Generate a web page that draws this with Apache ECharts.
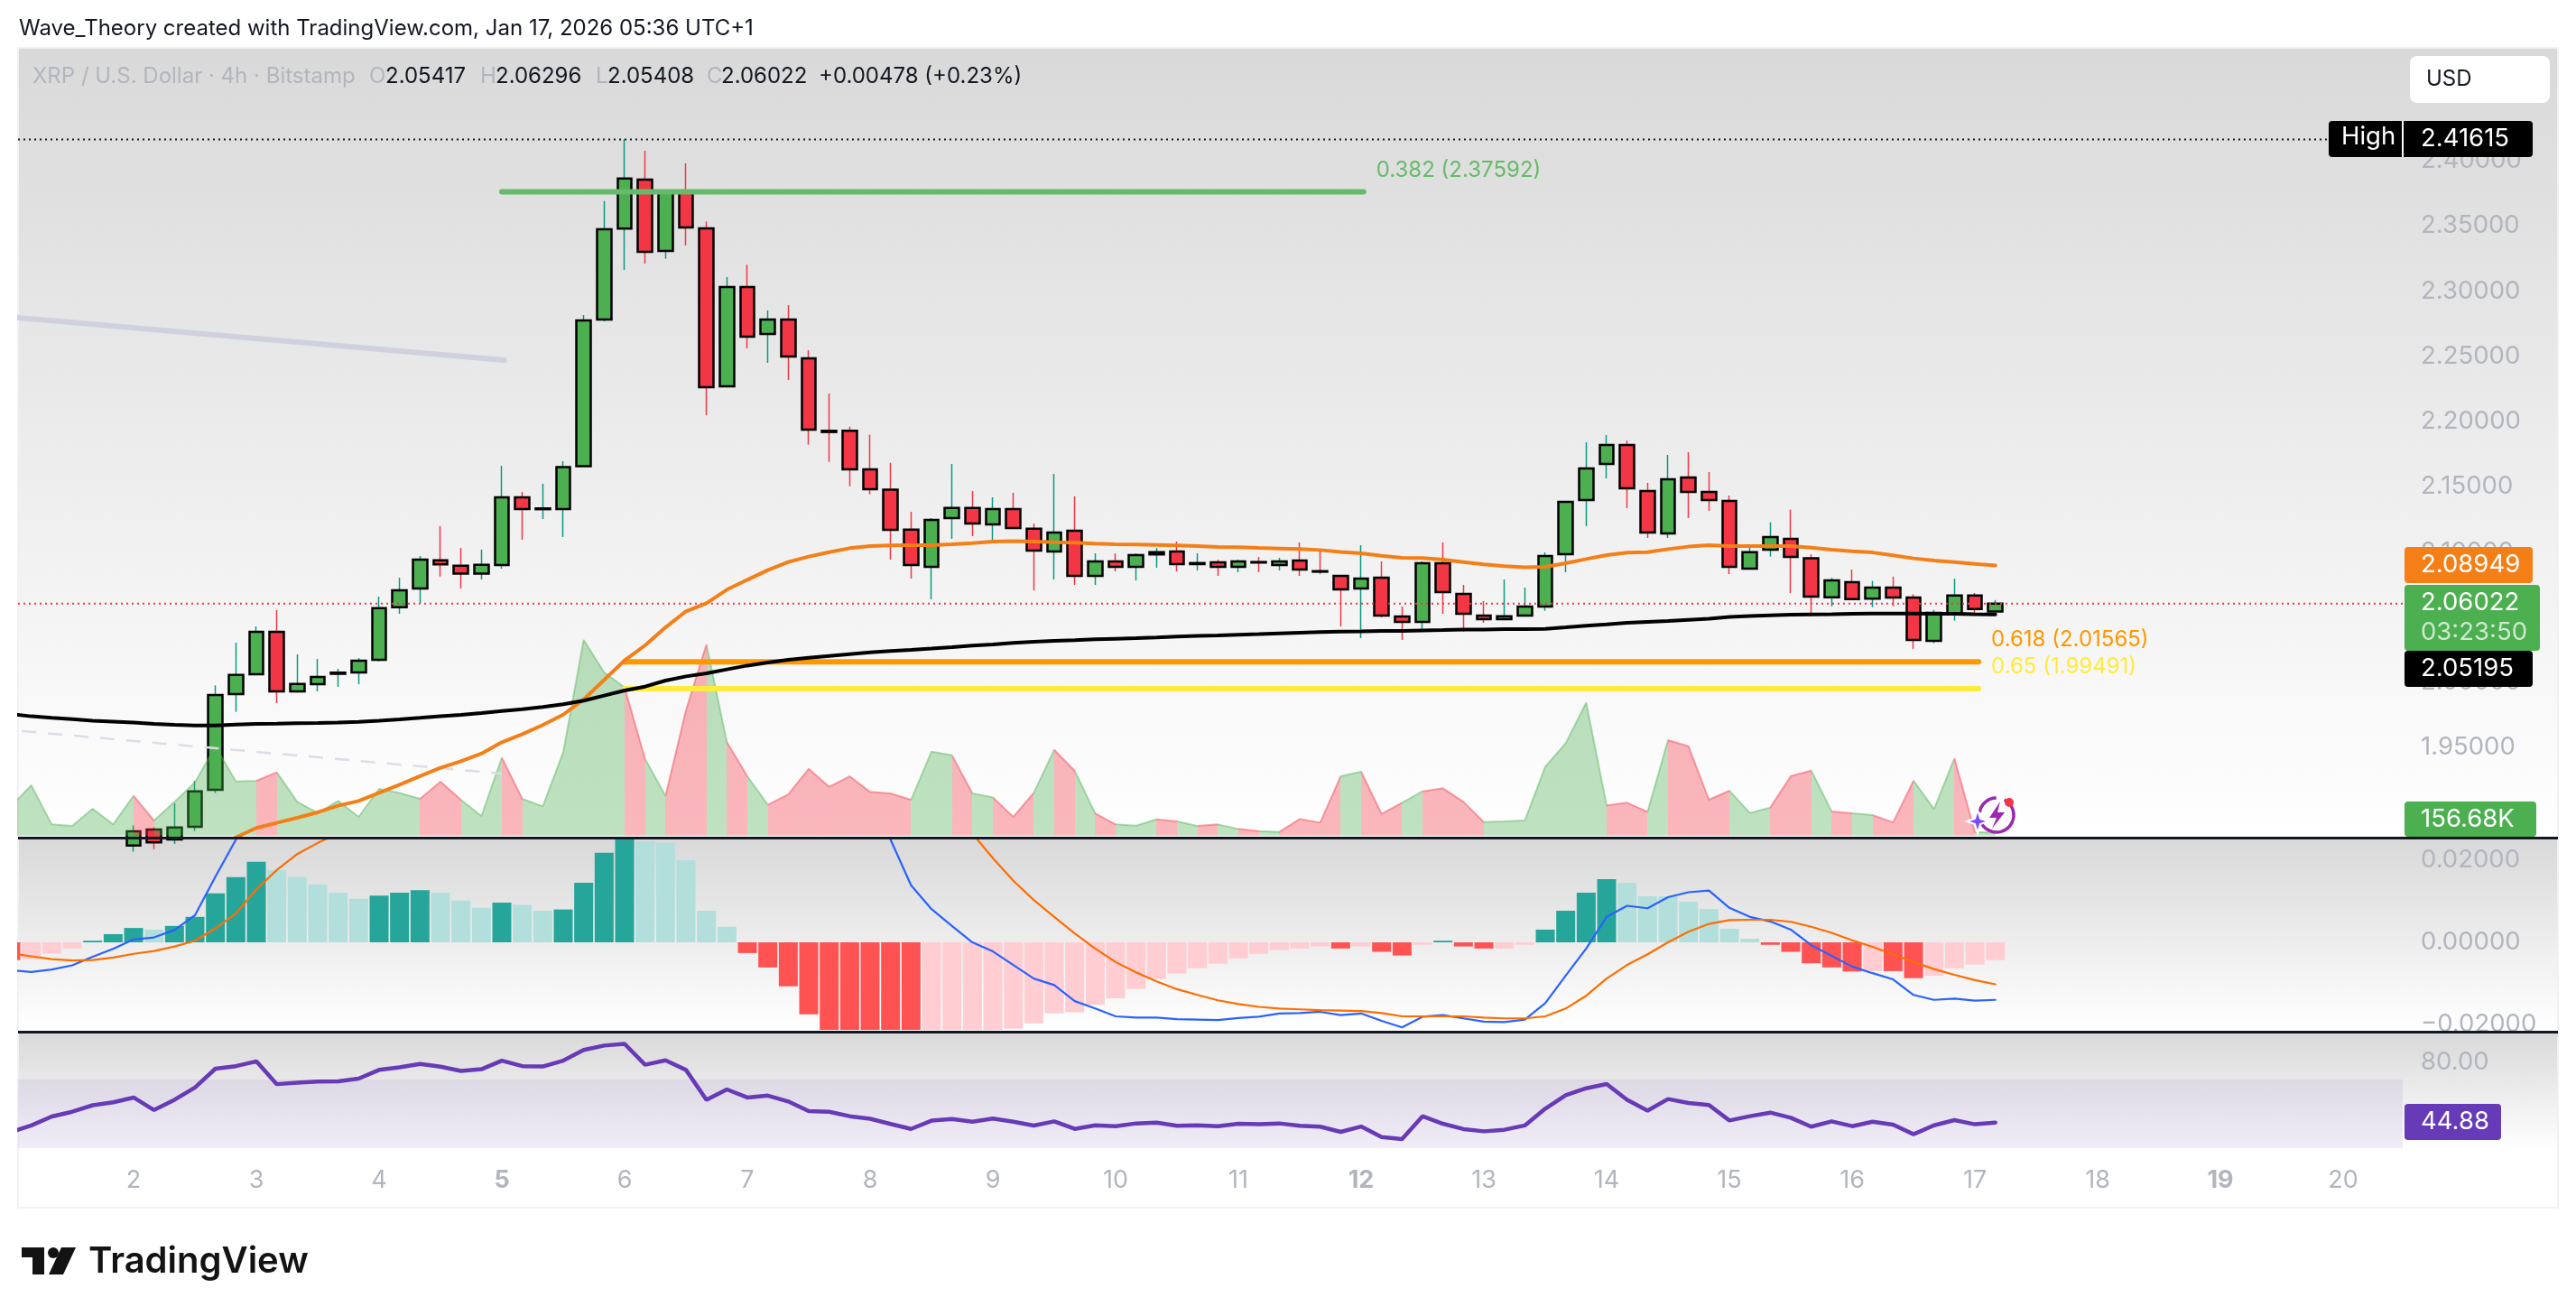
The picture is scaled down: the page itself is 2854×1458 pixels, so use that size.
<!DOCTYPE html>
<html>
<head>
<meta charset="utf-8">
<title>XRP / U.S. Dollar</title>
<script src="https://cdn.jsdelivr.net/npm/echarts@6/dist/echarts.min.js"></script>
<style>
  html, body { margin: 0; padding: 0; background: #fff; }
  #chart { width: 2854px; height: 1458px; }
</style>
</head>
<body>
<div id="chart"></div>
<script>
// candles, 4h bars from Jan 2 00:00: open, close, low, high
var candles = [
  [1.8748,1.8856,1.8700,1.8902],[1.8870,1.8771,1.8720,1.8886],[1.8794,1.8886,1.8759,1.9071],[1.8891,1.9163,1.8858,1.9242],
  [1.9175,1.9901,1.9150,1.9975],[1.9908,2.0056,1.9772,2.0303],[2.0061,2.0386,2.0061,2.0427],[2.0386,1.9929,1.9839,2.0552],
  [1.9929,1.9987,1.9920,2.0213],[1.9984,2.0040,1.9929,2.0178],[2.0064,2.0073,1.9964,2.0102],[2.0074,2.0164,1.9984,2.0185],
  [2.0171,2.0568,2.0160,2.0656],[2.0575,2.0704,2.0524,2.0801],[2.0718,2.0939,2.0605,2.0967],[2.0935,2.0903,2.0810,2.1196],
  [2.0893,2.0833,2.0718,2.1029],[2.0833,2.0900,2.0787,2.1016],[2.0898,2.1417,2.0870,2.1659],[2.1417,2.1327,2.1092,2.1458],
  [2.1326,2.1332,2.1251,2.1521],[2.1327,2.1648,2.1113,2.1694],[2.1655,2.2773,2.1655,2.2815],[2.2780,2.3472,2.2766,2.3689],
  [2.3477,2.3862,2.3161,2.41615],[2.3853,2.3299,2.3209,2.4074],[2.3306,2.3763,2.3246,2.3763],[2.3763,2.3486,2.3348,2.3977],
  [2.3479,2.2261,2.2047,2.3532],[2.2268,2.3029,2.2268,2.3106],[2.3029,2.2649,2.2559,2.3200],[2.2670,2.2780,2.2448,2.2850],
  [2.2780,2.2497,2.2317,2.2891],[2.2483,2.1936,2.1821,2.2545],[2.1927,2.1918,2.1689,2.2213],[2.1927,2.1631,2.1502,2.1959],
  [2.1631,2.1479,2.1440,2.1897],[2.1475,2.1168,2.0939,2.1682],[2.1170,2.0898,2.0794,2.1306],[2.0884,2.1244,2.0635,2.1258],
  [2.1258,2.1336,2.1099,2.1673],[2.1336,2.1216,2.1119,2.1465],[2.1209,2.1327,2.1064,2.1417],[2.1327,2.1182,2.1182,2.1452],
  [2.1177,2.1009,2.0704,2.1216],[2.1002,2.1147,2.0787,2.1597],[2.1161,2.0815,2.0746,2.1424],[2.0815,2.0926,2.0746,2.0988],
  [2.0926,2.0884,2.0849,2.0988],[2.0884,2.0974,2.0780,2.0988],[2.0979,2.0997,2.0877,2.1029],[2.1002,2.0905,2.0849,2.1078],
  [2.0905,2.0913,2.0856,2.0988],[2.0919,2.0884,2.0815,2.0939],[2.0884,2.0926,2.0843,2.0939],[2.0921,2.0917,2.0843,2.0960],
  [2.0898,2.0926,2.0856,2.0953],[2.0933,2.0863,2.0815,2.1071],[2.0851,2.0847,2.0829,2.1002],[2.0815,2.0711,2.0427,2.0815],
  [2.0718,2.0794,2.0337,2.1050],[2.0801,2.0510,2.0497,2.0926],[2.0503,2.0462,2.0324,2.0580],[2.0462,2.0912,2.0386,2.0926],
  [2.0912,2.0690,2.0524,2.1071],[2.0676,2.0524,2.0386,2.0746],[2.0510,2.0483,2.0455,2.0621],[2.0483,2.0506,2.0483,2.0787],
  [2.0510,2.0580,2.0510,2.0725],[2.0580,2.0967,2.0547,2.0995],[2.0981,2.1382,2.0843,2.1382],[2.1396,2.1638,2.1196,2.1839],
  [2.1673,2.1818,2.1562,2.1894],[2.1818,2.1486,2.1334,2.1853],[2.1466,2.1147,2.1106,2.1528],[2.1140,2.1555,2.1106,2.1742],
  [2.1569,2.1458,2.1258,2.1763],[2.1458,2.1396,2.1313,2.1611],[2.1389,2.0884,2.0828,2.1431],[2.0870,2.0996,2.0870,2.1055],
  [2.1015,2.1113,2.0963,2.1225],[2.1099,2.0961,2.0683,2.1323],[2.0949,2.0655,2.0529,2.0980],[2.0650,2.0781,2.0582,2.0800],
  [2.0767,2.0636,2.0636,2.0863],[2.0641,2.0725,2.0575,2.0776],[2.0725,2.0648,2.0582,2.0809],[2.0648,2.0323,2.0255,2.0673],
  [2.0316,2.0531,2.0299,2.0554],[2.0529,2.0664,2.0472,2.0793],[2.0664,2.0561,2.0533,2.0683],[2.05417,2.06022,2.05408,2.06296]
];

// indicators start one day earlier, at Jan 1 00:00
var volumeK = [
  1617,2784,617,533,1484,617,
  2200,834,1867,2950,4951,3000,3034,3501,1867,1250,
  1917,1034,2584,2367,2034,2984,1984,1084,4318,2034,
  1617,4618,10836,9035,8202,4251,2200,6951,10585,5168,
  3284,1700,2284,3701,2700,3284,2417,2334,1984,4651,
  4451,2334,2117,1034,2367,4751,3584,1234,617,550,
  900,784,533,617,367,250,200,917,717,3284,
  3534,1200,1817,2450,2617,1867,750,784,834,3817,
  5118,7368,1667,1817,1317,5284,4951,1984,2484,1251,
  1555,3296,3600,1335,1234,1132,727,3042,1470,4276,
  203,156.68
];
var ema50 = [
  null,null,null,null,null,null,
  null,null,null,null,1.8700,1.8810,1.8882,1.8921,1.8960,1.9002,
  1.9053,1.9089,1.9152,1.9214,1.9279,1.9343,1.9394,1.9452,1.9539,1.9601,
  1.9671,1.9751,1.9867,2.0017,2.0167,2.0282,2.0420,2.0543,2.0605,2.0709,
  2.0785,2.0859,2.0921,2.0963,2.0997,2.1027,2.1043,2.1048,2.1050,2.1050,
  2.1057,2.1066,2.1078,2.1082,2.1078,2.1073,2.1069,2.1062,2.1057,2.1055,
  2.1052,2.1048,2.1043,2.1036,2.1034,2.1029,2.1025,2.1020,2.1013,2.0999,
  2.0988,2.0969,2.0953,2.0951,2.0939,2.0921,2.0903,2.0889,2.0880,2.0884,
  2.0912,2.0944,2.0974,2.0993,2.0997,2.1020,2.1039,2.1050,2.1043,2.1043,
  2.1043,2.1043,2.1031,2.1015,2.1003,2.0994,2.0973,2.0949,2.0933,2.0921,
  2.0907,2.08949
];
var ema200 = [
  1.9756,1.9738,1.9726,1.9717,1.9705,1.9698,
  1.9691,1.9680,1.9673,1.9668,1.9668,1.9675,1.9680,1.9682,1.9685,1.9687,
  1.9691,1.9696,1.9705,1.9715,1.9726,1.9738,1.9749,1.9763,1.9779,1.9793,
  1.9809,1.9830,1.9858,1.9897,1.9936,1.9966,2.0012,2.0044,2.0068,2.0098,
  2.0127,2.0150,2.0171,2.0187,2.0201,2.0215,2.0229,2.0238,2.0247,2.0257,
  2.0268,2.0280,2.0289,2.0301,2.0310,2.0317,2.0321,2.0328,2.0333,2.0337,
  2.0342,2.0349,2.0354,2.0358,2.0363,2.0368,2.0374,2.0379,2.0384,2.0388,
  2.0390,2.0393,2.0393,2.0397,2.0400,2.0404,2.0404,2.0407,2.0407,2.0409,
  2.0420,2.0432,2.0443,2.0455,2.0462,2.0469,2.0478,2.0487,2.0500,2.0507,
  2.0512,2.0517,2.0519,2.0521,2.0524,2.0526,2.0526,2.0526,2.0524,2.0524,
  2.0521,2.05195
];
var macdHist = [
  -0.0043,-0.0041,-0.0027,-0.0015,0.0004,0.0020,
  0.0035,0.0031,0.0040,0.0062,0.0119,0.0159,0.0196,0.0176,0.0159,0.0141,
  0.0121,0.0106,0.0114,0.0121,0.0127,0.0121,0.0102,0.0084,0.0097,0.0091,
  0.0077,0.0080,0.0145,0.0218,0.0262,0.0246,0.0242,0.0200,0.0077,0.0038,
  -0.0026,-0.0061,-0.0107,-0.0175,-0.0228,-0.0262,-0.0280,-0.0290,-0.0290,-0.0275,
  -0.0250,-0.0235,-0.0222,-0.0210,-0.0197,-0.0173,-0.0170,-0.0152,-0.0136,-0.0113,
  -0.0089,-0.0076,-0.0063,-0.0052,-0.0039,-0.0028,-0.0019,-0.0015,-0.0010,-0.0015,
  -0.0010,-0.0023,-0.0032,-0.0006,0.0004,-0.0010,-0.0015,-0.0015,-0.0006,0.0031,
  0.0077,0.0121,0.0154,0.0145,0.0112,0.0112,0.0099,0.0081,0.0033,0.0009,
  -0.0006,-0.0023,-0.0051,-0.0061,-0.0071,-0.0070,-0.0070,-0.0087,-0.0081,-0.0063,
  -0.0054,-0.0043
];
// bars that are drawn in the full colour, position in macdHist
var macdDark = [0,4,5,6,8,9,10,11,12,18,19,20,24,27,28,29,30,36,37,38,39,40,41,42,43,44,65,67,68,70,71,72,75,76,77,78,86,87,88,89,90,92,93];
var macdLine = [
  -0.0068,-0.0072,-0.0066,-0.0056,-0.0035,-0.0016,
  0.0007,0.0012,0.0030,0.0066,0.0160,0.0250,0.0330,0.0365,0.0385,0.0400,
  0.0410,0.0415,0.0430,0.0445,0.0455,0.0460,0.0455,0.0445,0.0460,0.0465,
  0.0460,0.0470,0.0530,0.0600,0.0640,0.0650,0.0655,0.0625,0.0520,0.0480,
  0.0470,0.0450,0.0430,0.0415,0.0400,0.0380,0.0340,0.0250,0.0139,0.0081,
  0.0040,0,-0.0022,-0.0055,-0.0088,-0.0104,-0.0143,-0.0161,-0.0180,-0.0183,
  -0.0183,-0.0187,-0.0188,-0.0189,-0.0184,-0.0181,-0.0173,-0.0172,-0.0169,-0.0177,
  -0.0173,-0.0191,-0.0207,-0.0181,-0.0177,-0.0185,-0.0193,-0.0194,-0.0188,-0.0148,
  -0.0081,-0.0015,0.0062,0.0089,0.0083,0.0110,0.0122,0.0126,0.0084,0.0062,
  0.0051,0.0031,-0.0007,-0.0033,-0.0059,-0.0075,-0.0090,-0.0128,-0.0140,-0.0137,
  -0.0142,-0.0140
];
var macdSignal = [
  -0.0027,-0.0034,-0.0041,-0.0044,-0.0043,-0.0037,
  -0.0028,-0.0021,-0.0010,0.0004,0.0034,0.0070,0.0129,0.0176,0.0215,0.0242,
  0.0265,0.0285,0.0300,0.0315,0.0325,0.0335,0.0345,0.0352,0.0360,0.0365,
  0.0372,0.0382,0.0390,0.0400,0.0420,0.0450,0.0465,0.0480,0.0490,0.0480,
  0.0475,0.0470,0.0465,0.0455,0.0445,0.0430,0.0410,0.0385,0.0350,0.0320,
  0.0295,0.0265,0.0205,0.0150,0.0103,0.0062,0.0022,-0.0015,-0.0048,-0.0073,
  -0.0095,-0.0114,-0.0128,-0.0141,-0.0150,-0.0157,-0.0161,-0.0163,-0.0165,-0.0166,
  -0.0167,-0.0172,-0.0180,-0.0180,-0.0180,-0.0180,-0.0183,-0.0185,-0.0185,-0.0180,
  -0.0161,-0.0130,-0.0088,-0.0055,-0.0029,0,0.0026,0.0045,0.0054,0.0055,
  0.0055,0.0050,0.0038,0.0023,0.0005,-0.0011,-0.0029,-0.0048,-0.0065,-0.0079,
  -0.0092,-0.0102
];
var rsi = [
  39.4,43.2,48.4,51.2,55.0,56.7,
  59.5,52.2,58.2,65.3,76.3,77.8,80.6,67.3,68.1,68.8,
  69.0,70.5,75.6,77.1,79.1,77.5,75.0,76.0,81.0,77.8,
  77.6,81.0,87.2,89.8,90.8,78.6,81.2,75.6,58.2,64.2,
  59.5,60.6,57.2,51.6,51.2,48.6,47.1,44.1,41.2,46.0,
  47.0,45.4,47.2,45.4,43.2,45.6,41.2,43.3,42.8,44.4,
  44.9,43.0,43.3,42.8,44.2,43.9,44.4,43.0,42.5,39.5,
  42.6,36.5,35.3,48.6,44.2,41.1,39.8,40.7,43.2,53.0,
  60.9,64.9,67.4,58.2,51.8,58.6,56.3,55.1,46.1,48.6,
  50.7,47.7,42.5,45.6,42.8,45.4,43.7,38.1,43.3,46.3,
  43.9,44.88
];

var priceTicks = [2.40,2.35,2.30,2.25,2.20,2.15,2.10,2.05,2.00,1.95,1.90];
var macdTicks = [0.02,0,-0.02];
var rsiTicks = [80,40];
var dayTicks = [2,3,4,5,6,7,8,9,10,11,12,13,14,15,16,17,18,19,20];
var boldDays = [5,12,19];

// drawn lines: x is the day of January, y the price
var fib382 = [[5,2.37592],[12.02,2.37592]];
var fib618 = [[6,2.01565],[17.03,2.01565]];
var fib65 = [[6,1.99491],[17.03,1.99491]];
var trendSolid = [[1,2.2799],[5.02,2.2469]];
var trendDash = [[1.09,1.9625],[5,1.9299]];

var FONT = 'Inter, "Noto Sans", sans-serif';
var GREEN = '#4caf50', RED = '#f23645', WICK_UP = '#089981', GREY = '#b2b5be';
var xMin = 1.0588, xMax = 20.485;

function candleDay(i) { return 2 + i / 6; }
function indicatorDay(i) { return 1 + i / 6; }
function indicatorPoints(arr) {
  return arr.map(function (v, i) { return [indicatorDay(i), v]; });
}

// volume colour: the segment that ends on a candle takes this candle's colour
var volumePieces = candles.map(function (c, i) {
  return { min: candleDay(i - 1), max: candleDay(i), color: c[1] >= c[0] ? GREEN : RED };
});

var histData = macdHist.map(function (v, i) {
  var dark = macdDark.indexOf(i) >= 0;
  var color = v >= 0 ? (dark ? '#26a69a' : '#b2dfdb') : (dark ? '#ff5252' : '#ffcdd2');
  return { value: [indicatorDay(i), v], itemStyle: { color: color } };
});

function fibSeries(name, points, color, labelText) {
  return {
    name: name, type: 'line', data: points, symbol: 'none', silent: true,
    lineStyle: { color: color, width: 6, cap: 'round' },
    endLabel: { show: true, formatter: labelText, distance: 14, offset: [0, -24], color: color, fontFamily: FONT, fontSize: 24 }
  };
}

function plainLine(name, data, color, width, extra) {
  var s = { name: name, type: 'line', data: data, symbol: 'none', showSymbol: false, silent: true,
    lineStyle: Object.assign({ color: color, width: width, cap: 'round' }, extra || {}) };
  return s;
}

var chart = echarts.init(document.getElementById('chart'));

function valueAxis(gridIndex, min, max, ticks, fmt) {
  return {
    type: 'value', gridIndex: gridIndex, position: 'right', min: min, max: max, scale: true,
    splitLine: { show: false }, axisLine: { show: false }, axisTick: { show: false },
    axisLabel: { customValues: ticks, margin: 20, color: GREY, fontFamily: FONT, fontSize: 27.5, formatter: fmt }
  };
}
function dayAxis(gridIndex, showLabels) {
  return {
    type: 'value', gridIndex: gridIndex, min: xMin, max: xMax,
    splitLine: { show: false }, axisLine: { show: false }, axisTick: { show: false },
    axisLabel: {
      show: showLabels, customValues: dayTicks, margin: 22, color: GREY, fontFamily: FONT, fontSize: 27,
      formatter: function (v) { return boldDays.indexOf(v) >= 0 ? '{b|' + v + '}' : String(v); },
      rich: { b: { fontWeight: 'bold', color: GREY, fontFamily: FONT, fontSize: 27 } }
    }
  };
}

var option = {
  animation: false,
  backgroundColor: '#fff',
  grid: [
    { left: 20, right: 192, top: 54, height: 874 },
    { left: 20, right: 192, top: 930, height: 211 },
    { left: 20, right: 192, top: 1145, height: 127 }
  ],
  xAxis: [dayAxis(0, false), dayAxis(1, false), dayAxis(2, true)],
  yAxis: [
    valueAxis(0, 1.8808, 2.48564, priceTicks, function (v) { return v.toFixed(5); }),
    { type: 'value', gridIndex: 0, show: false, min: -115, max: 43585, splitLine: { show: false } },
    valueAxis(1, -0.0213, 0.02505, macdTicks, function (v) { return (v < 0 ? '\u2212' : '') + Math.abs(v).toFixed(5); }),
    valueAxis(2, 30, 96.84, rsiTicks, function (v) { return v.toFixed(2); })
  ],
  visualMap: [{
    type: 'piecewise', show: false, seriesIndex: 0, dimension: 0,
    pieces: volumePieces, outOfRange: { color: GREEN }
  }],
  series: [
    // volume
    {
      name: 'Volume', type: 'line', xAxisIndex: 0, yAxisIndex: 1, data: indicatorPoints(volumeK),
      symbol: 'none', showSymbol: false, silent: true,
      lineStyle: { width: 2, opacity: 0.42 }, areaStyle: { opacity: 0.36 }
    },
    plainLine('trend', trendSolid, '#cfd1de', 6),
    plainLine('trend dash', trendDash, '#dedce8', 2.5, { type: [16, 13], cap: 'butt' }),
    fibSeries('0.382', fib382, '#66bb6a', '0.382 (2.37592)'),
    fibSeries('0.618', fib618, '#ff9800', '0.618 (2.01565)'),
    fibSeries('0.65', fib65, '#ffeb3b', '0.65 (1.99491)'),
    plainLine('High', [[xMin, 2.41615], [19.95, 2.41615]], '#131722', 2, { type: [2, 4], cap: 'butt' }),
    plainLine('Last', [[xMin, 2.06022], [xMax, 2.06022]], RED, 2, { type: [2, 4], cap: 'butt' }),
    plainLine('EMA 50', indicatorPoints(ema50), '#f57f17', 4),
    plainLine('EMA 200', indicatorPoints(ema200), '#000000', 4),
    // candles: thin series for the wicks, then the bodies with a black border on top
    {
      name: 'wicks', type: 'candlestick', barWidth: 1, silent: true,
      data: candles.map(function (c, i) { return [candleDay(i), c[0], c[1], c[2], c[3]]; }),
      itemStyle: { color: WICK_UP, color0: RED, borderColor: WICK_UP, borderColor0: RED, borderWidth: 1.5 }
    },
    {
      name: 'XRP', type: 'candlestick', barWidth: 16, silent: true,
      data: candles.map(function (c, i) {
        return [candleDay(i), c[0], c[1], Math.min(c[0], c[1]), Math.max(c[0], c[1])];
      }),
      itemStyle: { color: GREEN, color0: RED, borderColor: '#000', borderColor0: '#000', borderWidth: 2.5 }
    },
    // macd
    { name: 'Histogram', type: 'bar', xAxisIndex: 1, yAxisIndex: 2, barWidth: 21, data: histData, silent: true },
    Object.assign(plainLine('MACD', indicatorPoints(macdLine), '#2962ff', 2.2), { xAxisIndex: 1, yAxisIndex: 2 }),
    Object.assign(plainLine('Signal', indicatorPoints(macdSignal), '#ff6d00', 2.2), { xAxisIndex: 1, yAxisIndex: 2 }),
    // rsi
    Object.assign(plainLine('RSI', indicatorPoints(rsi), '#673ab7', 4.5), {
      xAxisIndex: 2, yAxisIndex: 3,
      markArea: { silent: true, itemStyle: { color: 'rgba(126,87,194,0.1)' }, data: [[{ yAxis: 70 }, { yAxis: 30 }]] }
    })
  ],
  graphic: { elements: overlay() }
};
chart.setOption(option);

function paneBg(top, bottom) {
  return {
    type: 'rect', z: -5, silent: true, shape: { x: 20, y: top, width: 2814, height: bottom - top },
    style: { fill: new echarts.graphic.LinearGradient(0, 0, 0, 1, [{ offset: 0, color: '#d9d9d9' }, { offset: 1, color: '#ffffff' }]) }
  };
}
function box(x, y, w, h, fill, r, z) {
  return { type: 'rect', z: z || 50, silent: true, shape: { x: x, y: y, width: w, height: h, r: r || 0 }, style: { fill: fill } };
}
function label(text, x, y, fill, size, extra) {
  return {
    type: 'text', z: 60, silent: true,
    style: Object.assign({ text: text, x: x, y: y, fill: fill, font: (size || 27.5) + 'px ' + FONT, textVerticalAlign: 'middle', textAlign: 'left' }, extra || {})
  };
}

function overlay() {
  var els = [];
  // pane backgrounds, frame and dividers
  els.push(paneBg(54, 928), paneBg(930, 1142), paneBg(1145, 1274));
  els.push({ type: 'rect', z: -4, silent: true, shape: { x: 20, y: 53, width: 2814, height: 1285 }, style: { fill: 'none', stroke: '#f0f1f3', lineWidth: 2 } });
  els.push(box(2664, 1144, 170, 5, '#d9d9d9', 0, 40));
  els.push(box(20, 927, 2814, 3, '#131722', 0, 41), box(20, 1142, 2814, 3, '#131722', 0, 41));
  // marks that start left of the plot are cut at the frame
  els.push(box(0, 54, 19, 1284, '#ffffff', 0, 42));

  // top line and the ohlc legend
  els.push(label('Wave_Theory created with TradingView.com, Jan 17, 2026 05:36 UTC+1', 21, 32, '#131722', 24));
  els.push(label('XRP / U.S. Dollar \u00b7 4h \u00b7 Bitstamp', 36, 85, GREY, 24));
  [['O', 409, '2.05417', 427], ['H', 532, '2.06296', 549], ['L', 660, '2.05408', 673], ['C', 783, '2.06022', 799]].forEach(function (o) {
    els.push(label(o[0], o[1], 85, GREY, 24), label(o[2], o[3], 85, '#131722', 24));
  });
  els.push(label('+0.00478 (+0.23%)', 907, 85, '#131722', 24));

  // USD button
  els.push(box(2670, 62, 155, 52, '#ffffff', 8));
  els.push(label('USD', 2688, 88, '#131722', 24));

  // tags on the price scale
  els.push(box(2580, 134, 226, 40, '#000000', 4), box(2661, 134, 2, 40, '#ffffff', 0, 51));
  els.push(label('High', 2594, 152, '#ffffff'), label('2.41615', 2682, 154, '#ffffff'));
  els.push(box(2664, 606, 142, 40, '#f57f17', 4), label('2.08949', 2682, 626, '#ffffff'));
  els.push(box(2664, 648, 150, 73, GREEN, 4), label('2.06022', 2682, 668, '#ffffff'), label('03:23:50', 2682, 701, 'rgba(255,255,255,0.72)'));
  els.push(box(2664, 721, 142, 40, '#000000', 4), label('2.05195', 2682, 741, '#ffffff'));
  els.push(box(2664, 888, 146, 39, GREEN, 4), label('156.68K', 2682, 908, '#ffffff'));
  els.push(box(2664, 1223, 107, 40, '#673ab7', 4), label('44.88', 2682, 1243, '#ffffff'));

  // assistant badge next to the last bar
  els.push({ type: 'arc', z: 55, silent: true, shape: { cx: 2212, cy: 903, r: 19, startAngle: -1.1, endAngle: 3.0, clockwise: true }, style: { fill: 'none', stroke: '#9c27b0', lineWidth: 3.5 } });
  els.push({ type: 'arc', z: 55, silent: true, shape: { cx: 2212, cy: 903, r: 19, startAngle: 3.3, endAngle: 4.7, clockwise: true }, style: { fill: 'none', stroke: '#9c27b0', lineWidth: 3.5 } });
  els.push({ type: 'polygon', z: 56, silent: true, shape: { points: [[2216, 888], [2204, 906], [2212, 906], [2207, 918], [2221, 900], [2213, 900]] }, style: { fill: '#9c27b0' } });
  els.push({ type: 'polygon', z: 57, silent: true, shape: { points: [[2191, 897], [2194, 907], [2203, 910], [2194, 913], [2191, 923], [2188, 913], [2179, 910], [2188, 907]] }, style: { fill: '#7c4dff', stroke: '#ffffff', lineWidth: 2 } });
  els.push({ type: 'circle', z: 57, silent: true, shape: { cx: 2226, cy: 889, r: 5 }, style: { fill: '#f23645' } });

  // logo
  els.push({ type: 'polygon', z: 60, silent: true, shape: { points: [[24, 1382], [49, 1382], [49, 1412], [36, 1412], [36, 1393], [24, 1393]] }, style: { fill: '#131313' } });
  els.push({ type: 'circle', z: 60, silent: true, shape: { cx: 59, cy: 1388, r: 6 }, style: { fill: '#131313' } });
  els.push({ type: 'polygon', z: 60, silent: true, shape: { points: [[68, 1382], [84, 1382], [70, 1412], [54, 1412]] }, style: { fill: '#131313' } });
  els.push(label('TradingView', 98, 1398, '#131313', 40, { font: '600 40px ' + FONT }));
  return els;
}
</script>
</body>
</html>
